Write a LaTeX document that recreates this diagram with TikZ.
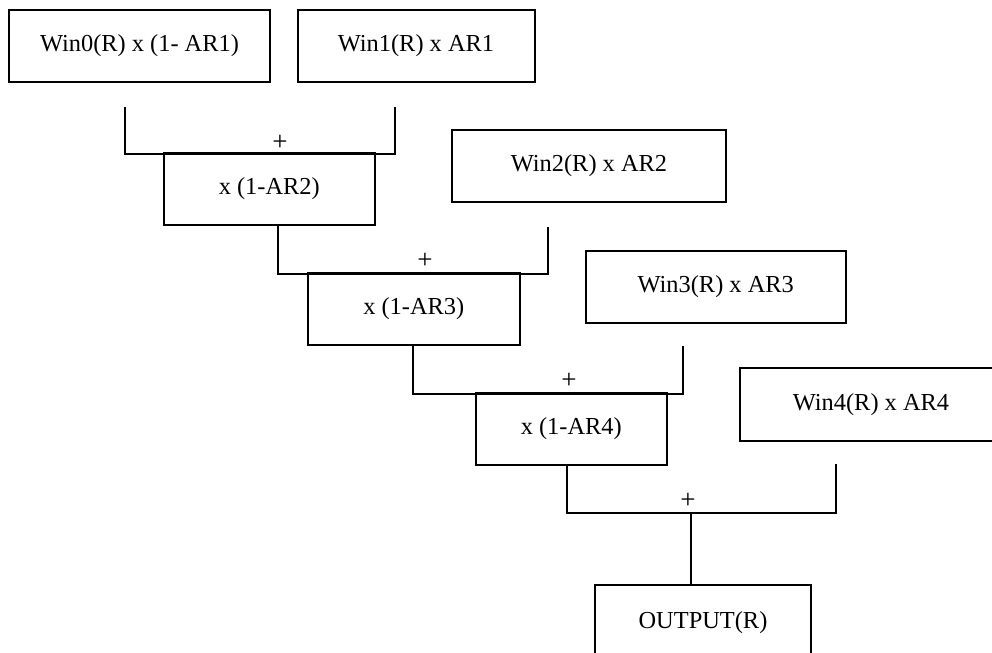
\documentclass[tikz,border=0pt]{standalone}
\usepackage{fontspec}
\setmainfont{Liberation Serif}
\usetikzlibrary{positioning}

\begin{document}
\begin{tikzpicture}[x=0.5pt, y=-0.5pt,
    box/.style={draw, line width=1pt, rectangle, minimum height=36pt,
                inner sep=0pt, font=\fontsize{12.2}{14}\selectfont},
    wire/.style={line width=1pt},
    plus/.style={font=\fontsize{13.5}{15}\selectfont, inner sep=0pt}]

\useasboundingbox (0,0) rectangle (992,653);

% --- Stage 1: first two windows ---
\node[box, minimum width=130.5pt] (win0-box) at (139.5,46) {Win0(R) x (1- AR1)};
\node[box, minimum width=118.5pt] (win1-box) at (416,46) {Win1(R) x AR1};

\coordinate (sum1-left) at (125,107);
\coordinate (sum1-right) at (394.6,107);
\coordinate (sum1-join) at (280,154);
\draw[wire] (sum1-left) |- (sum1-join) -| (sum1-right);
\node[plus] (plus1) at (280,143) {+};

% --- Stage 2 ---
\node[box, minimum width=105.75pt] (ar2-box) at (269.25,189) {x (1-AR2)};
\node[box, minimum width=137pt] (win2-box) at (589,166) {Win2(R) x AR2};

\coordinate (sum2-left) at ([xshift=4.4pt]ar2-box.south);
\coordinate (sum2-right) at (548,227);
\coordinate (sum2-join) at (425,274);
\draw[wire] (sum2-left) |- (sum2-join) -| (sum2-right);
\node[plus] (plus2) at (425,261) {+};

% --- Stage 3 ---
\node[box, minimum width=105.75pt] (ar3-box) at (413.75,309) {x (1-AR3)};
\node[box, minimum width=129.75pt] (win3-box) at (715.75,287) {Win3(R) x AR3};

\coordinate (sum3-left) at ([xshift=-0.4pt]ar3-box.south);
\coordinate (sum3-right) at (682.5,346);
\coordinate (sum3-join) at (569,394);
\draw[wire] (sum3-left) |- (sum3-join) -| (sum3-right);
\node[plus] (plus3) at (569,381) {+};

% --- Stage 4 ---
\node[box, minimum width=95.75pt] (ar4-box) at (571.25,429) {x (1-AR4)};
\node[box, minimum width=131.5pt, minimum height=36.5pt] (win4-box) at (871,404.5) {Win4(R) x AR4};

\coordinate (sum4-left) at ([xshift=-2.1pt]ar4-box.south);
\coordinate (sum4-right) at (836,464);
\coordinate (sum4-join) at (691,513);
\draw[wire] (sum4-left) |- (sum4-join) -| (sum4-right);
\node[plus] (plus4) at (688,501) {+};

% --- Output ---
\node[box, minimum width=108pt, minimum height=38pt] (out-box) at (703,623) {OUTPUT(R)};
\draw[wire] (sum4-join) -- (sum4-join |- out-box.north);

\end{tikzpicture}
\end{document}
